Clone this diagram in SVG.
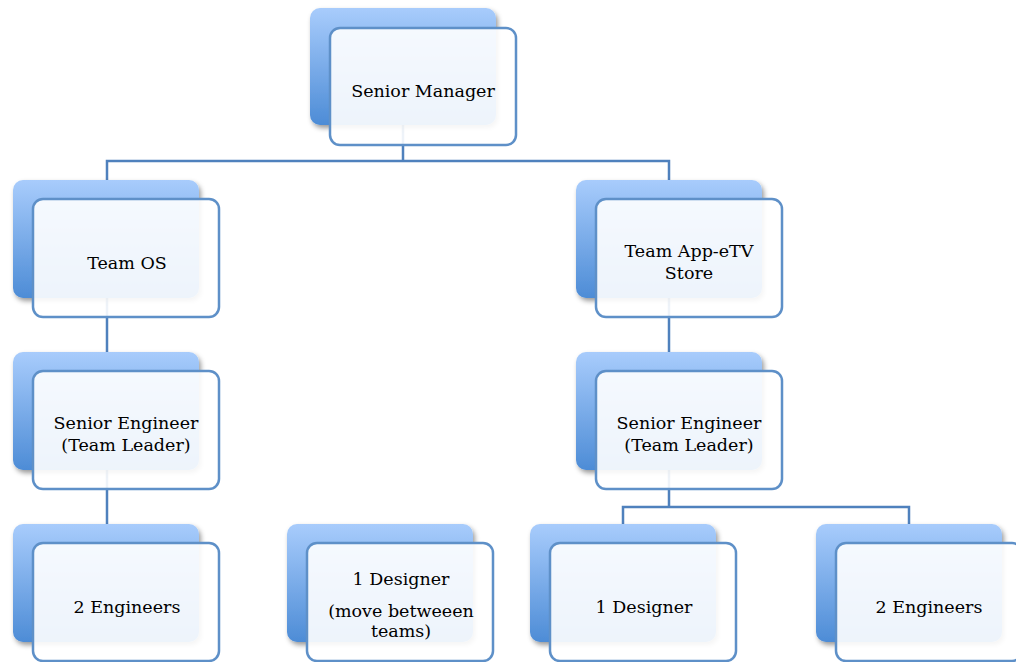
<svg xmlns="http://www.w3.org/2000/svg" width="1016" height="662" viewBox="0 0 1016 662">
<defs>
<linearGradient id="bg" x1="0" y1="0" x2="0" y2="1">
<stop offset="0" stop-color="#a8ccfc"/>
<stop offset="1" stop-color="#4d8cd6"/>
</linearGradient>
<filter id="sh" x="-10%" y="-10%" width="130%" height="130%">
<feDropShadow dx="2" dy="3" stdDeviation="2.5" flood-color="#000" flood-opacity="0.4"/>
</filter>
</defs>
<style>
.back{fill:url(#bg);filter:url(#sh)}
.front{fill:#ffffff;fill-opacity:0.9;stroke:#5e90c8;stroke-width:2.5}
.conn{fill:none;stroke:#4f81bd;stroke-width:2.5}
text{font-family:"DejaVu Serif","Liberation Serif",serif;font-size:17.5px;fill:#000;text-anchor:middle}
</style>
<rect width="1016" height="662" fill="#fff"/>
<g id="connectors">
<path class="conn" d="M403 125 V161 M107 180 V161 H669 V180"/>
<path class="conn" d="M107 298 V352"/>
<path class="conn" d="M107 470 V524"/>
<path class="conn" d="M669 298 V352"/>
<path class="conn" d="M669 470 V507 M623 524 V507 H909 V524"/>
</g>
<g id="n-senior-manager">
<rect class="back" x="310" y="8" width="186" height="117" rx="10"/>
<rect class="front" x="330" y="28" width="186" height="117" rx="10"/>
<text x="423" y="97">Senior Manager</text>
</g>
<g id="n-team-os">
<rect class="back" x="13" y="180" width="186" height="118" rx="10"/>
<rect class="front" x="33" y="199" width="186" height="118" rx="10"/>
<text x="127" y="269">Team OS</text>
</g>
<g id="n-team-app">
<rect class="back" x="576" y="180" width="186" height="118" rx="10"/>
<rect class="front" x="596" y="199" width="186" height="118" rx="10"/>
<text x="689" y="257">Team App-eTV</text>
<text x="689" y="279">Store</text>
</g>
<g id="n-senior-eng-left">
<rect class="back" x="13" y="352" width="186" height="118" rx="10"/>
<rect class="front" x="33" y="371" width="186" height="118" rx="10"/>
<text x="126" y="429">Senior Engineer</text>
<text x="126" y="451">(Team Leader)</text>
</g>
<g id="n-senior-eng-right">
<rect class="back" x="576" y="352" width="186" height="118" rx="10"/>
<rect class="front" x="596" y="371" width="186" height="118" rx="10"/>
<text x="689" y="429">Senior Engineer</text>
<text x="689" y="451">(Team Leader)</text>
</g>
<g id="n-engineers-left">
<rect class="back" x="13" y="524" width="186" height="118" rx="10"/>
<rect class="front" x="33" y="543" width="186" height="118" rx="10"/>
<text x="127" y="613">2 Engineers</text>
</g>
<g id="n-designer-middle">
<rect class="back" x="287" y="524" width="186" height="118" rx="10"/>
<rect class="front" x="307" y="543" width="186" height="118" rx="10"/>
<text x="401" y="585">1 Designer</text>
<text x="401" y="617">(move betweeen</text>
<text x="401" y="637">teams)</text>
</g>
<g id="n-designer-right">
<rect class="back" x="530" y="524" width="186" height="118" rx="10"/>
<rect class="front" x="550" y="543" width="186" height="118" rx="10"/>
<text x="644" y="613">1 Designer</text>
</g>
<g id="n-engineers-right">
<rect class="back" x="816" y="524" width="186" height="118" rx="10"/>
<rect class="front" x="836" y="543" width="186" height="118" rx="10"/>
<text x="929" y="613">2 Engineers</text>
</g>
</svg>
